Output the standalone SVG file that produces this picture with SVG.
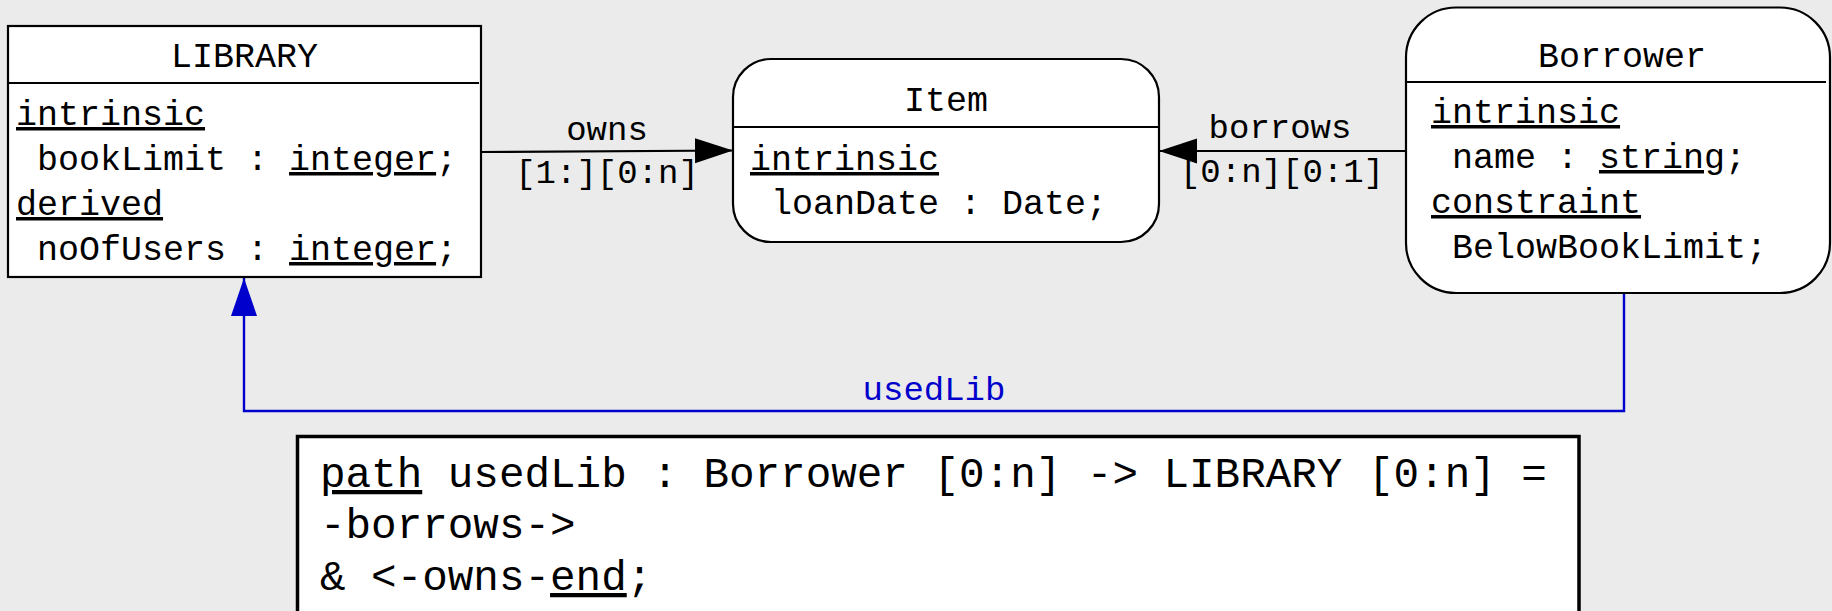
<svg xmlns="http://www.w3.org/2000/svg" width="1832" height="611" viewBox="0 0 1832 611">
  <style>
    text { font-family: "Liberation Mono", "Courier New", monospace; fill: #000; }
    .node { fill: #fff; stroke: #000; stroke-width: 2.2; }
    .sep { stroke: #000; stroke-width: 2.2; }
    .title { font-size: 35px; text-anchor: middle; }
    .body { font-size: 35px; }
    .lbl { font-size: 34px; text-anchor: middle; }
    .blue { fill: #0000cc; }
    .u { text-decoration: underline; }
    .edge { fill: none; stroke: #000; stroke-width: 2.2; }
    .edge-blue { fill: none; stroke: #0000cc; stroke-width: 2.4; }
    .code { font-size: 42.6px; }
  </style>
  <defs>
    <marker id="arrowBlack" markerUnits="userSpaceOnUse" markerWidth="39" markerHeight="26" refX="38" refY="12.5" orient="auto">
      <path d="M0,0 L38,12.5 L0,25 z" fill="#000"/>
    </marker>
    <marker id="arrowBlue" markerUnits="userSpaceOnUse" markerWidth="39" markerHeight="27" refX="38" refY="13" orient="auto">
      <path d="M0,0 L38,13 L0,26 z" fill="#0000cc"/>
    </marker>
  </defs>

  <rect x="0" y="0" width="1832" height="611" fill="#ebebeb"/>

  <g id="connectors">
    <g id="edge-owns">
      <line class="edge" x1="481" y1="152" x2="733" y2="150.5" marker-end="url(#arrowBlack)"/>
      <text class="lbl" x="607" y="140">owns</text>
      <text class="lbl" x="607" y="183">[1:][0:n]</text>
    </g>
    <g id="edge-borrows">
      <line class="edge" x1="1406" y1="151" x2="1159" y2="151" marker-end="url(#arrowBlack)"/>
      <text class="lbl" x="1280" y="138">borrows</text>
      <text class="lbl" x="1282" y="182">[0:n][0:1]</text>
    </g>
    <g id="edge-usedLib">
      <polyline class="edge-blue" points="1624,293 1624,411 244,411 244,278" marker-end="url(#arrowBlue)"/>
      <text class="lbl blue" x="934" y="400">usedLib</text>
    </g>
  </g>

  <!-- attribute lines are indented by one character cell (21px) -->
  <g id="node-library">
    <rect class="node" x="8" y="26" width="473" height="251"/>
    <line class="sep" x1="8" y1="83" x2="479" y2="83"/>
    <text class="title" x="244.5" y="67">LIBRARY</text>
    <text class="body" x="16" y="125"><tspan class="u">intrinsic</tspan></text>
    <text class="body" x="37" y="170">bookLimit : <tspan class="u">integer</tspan>;</text>
    <text class="body" x="16" y="215"><tspan class="u">derived</tspan></text>
    <text class="body" x="37" y="260">noOfUsers : <tspan class="u">integer</tspan>;</text>
  </g>

  <g id="node-item">
    <rect class="node" x="733" y="59" width="426" height="183" rx="38" ry="38"/>
    <line class="sep" x1="733" y1="127" x2="1159" y2="127"/>
    <text class="title" x="946" y="111">Item</text>
    <text class="body" x="750" y="170"><tspan class="u">intrinsic</tspan></text>
    <text class="body" x="771" y="214">loanDate : Date;</text>
  </g>

  <g id="node-borrower">
    <rect class="node" x="1406" y="7.5" width="424" height="285.5" rx="50" ry="50"/>
    <line class="sep" x1="1406" y1="82" x2="1826" y2="82"/>
    <text class="title" x="1622" y="67">Borrower</text>
    <text class="body" x="1431" y="123"><tspan class="u">intrinsic</tspan></text>
    <text class="body" x="1452" y="168">name : <tspan class="u">string</tspan>;</text>
    <text class="body" x="1431" y="213"><tspan class="u">constraint</tspan></text>
    <text class="body" x="1452" y="258">BelowBookLimit;</text>
  </g>

  <g id="node-path-definition">
    <rect x="297.5" y="436.5" width="1281.5" height="220" fill="#fff" stroke="#000" stroke-width="3.5"/>
    <text class="code" x="320" y="487"><tspan class="u">path</tspan> usedLib : Borrower [0:n] -&gt; LIBRARY [0:n] =</text>
    <text class="code" x="320" y="538">-borrows-&gt;</text>
    <text class="code" x="320" y="590">&amp; &lt;-owns-<tspan class="u">end</tspan>;</text>
  </g>
</svg>
